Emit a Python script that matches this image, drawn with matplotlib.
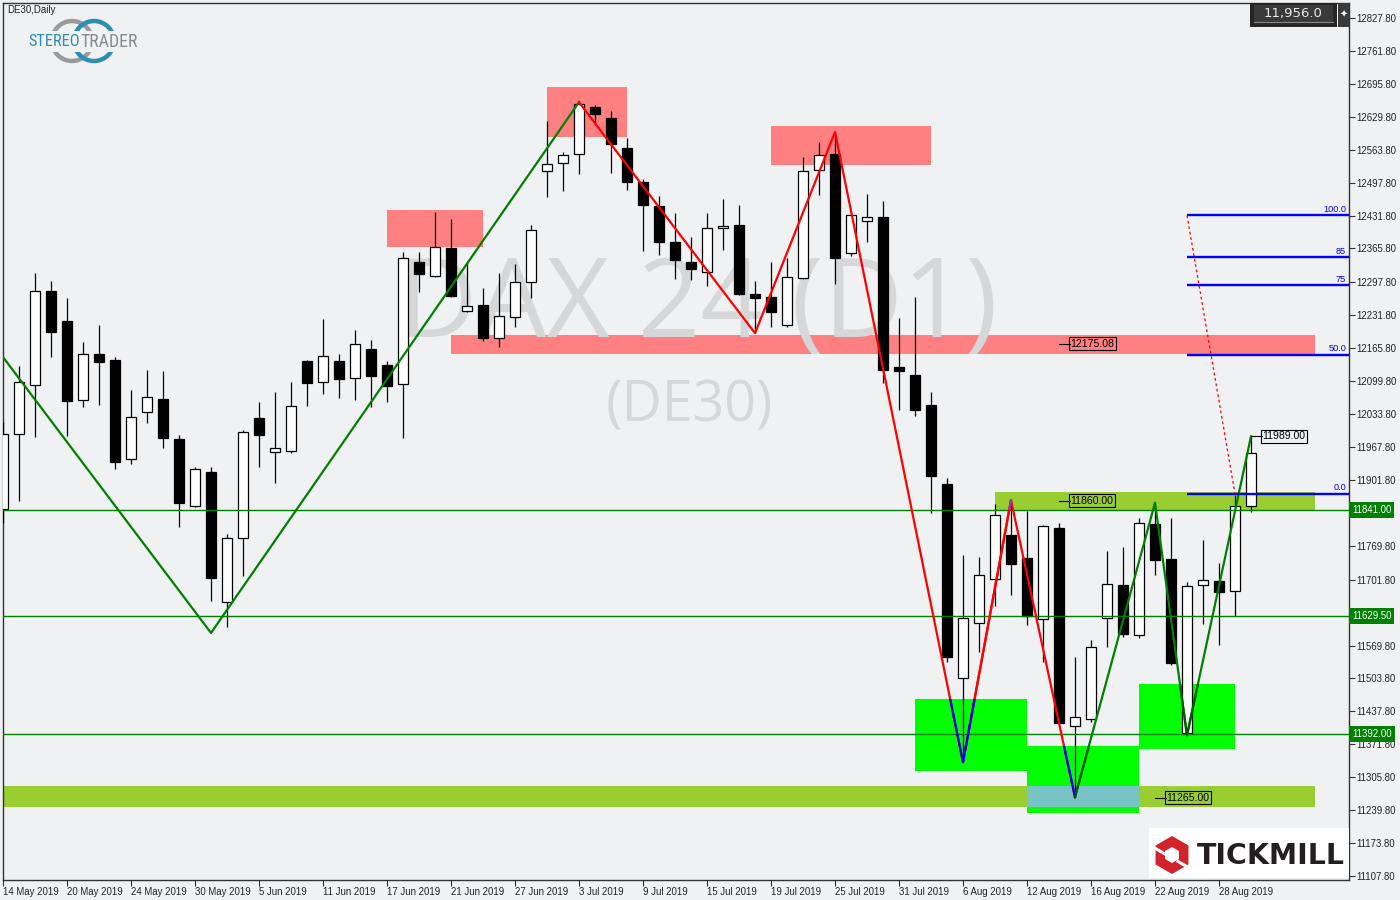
import numpy as np
import pandas as pd
import matplotlib
matplotlib.use("Agg")
import matplotlib.pyplot as plt
from matplotlib.patches import Rectangle, RegularPolygon, Circle
from matplotlib.transforms import blended_transform_factory

plt.rcParams["font.family"] = ["Liberation Sans", "DejaVu Sans"]

# ---- DE30 daily candles, 14 May - 30 Aug 2019 ----
dates = pd.bdate_range("2019-05-14", "2019-08-30")

opens = [11843, 11994, 12092, 12281, 12220, 12062, 12154, 12142, 11944, 12038,
         12064, 11984, 11850, 11918, 11657, 11785, 12026, 11958, 11960, 12140,
         12098, 12140, 12106, 12164, 12132, 12094, 12339, 12311, 12367, 12240,
         12252, 12186, 12228, 12299, 12521, 12537, 12555, 12649, 12627, 12567,
         12499, 12451, 12379, 12339, 12319, 12407, 12413, 12275, 12269, 12212,
         12307, 12523, 12555, 12357, 12421, 12429, 12128, 12112, 12052, 11894,
         11505, 11615, 11703, 11791, 11745, 11623, 11805, 11409, 11423, 11625,
         11691, 11591, 11813, 11743, 11394, 11691, 11699, 11679, 11850]
highs = [12018, 12130, 12317, 12301, 12267, 12178, 12212, 12148, 12082, 12122,
         12120, 11992, 11928, 11928, 11793, 12002, 12058, 12078, 12098, 12142,
         12224, 12154, 12202, 12182, 12140, 12359, 12359, 12439, 12425, 12339,
         12287, 12317, 12335, 12413, 12621, 12559, 12659, 12653, 12641, 12587,
         12505, 12471, 12437, 12389, 12437, 12465, 12453, 12301, 12339, 12347,
         12549, 12579, 12599, 12435, 12475, 12461, 12226, 12269, 12078, 11906,
         11751, 11747, 11854, 11862, 11839, 11812, 11815, 11547, 11581, 11759,
         11767, 11825, 11856, 11825, 11697, 11781, 11735, 11872, 11989]
lows = [11815, 11860, 11988, 12148, 11990, 12048, 12052, 11924, 11934, 12016,
        11966, 11807, 11847, 11659, 11607, 11709, 11928, 11896, 11956, 12050,
        12074, 12066, 12062, 12048, 12058, 11986, 12279, 12309, 12269, 12238,
        12180, 12168, 12208, 12267, 12469, 12481, 12515, 12613, 12517, 12483,
        12361, 12353, 12305, 12303, 12291, 12363, 12272, 12196, 12208, 12208,
        12305, 12473, 12295, 12351, 12379, 12096, 12042, 12030, 11835, 11537,
        11336, 11557, 11649, 11671, 11611, 11537, 11412, 11266, 11417, 11567,
        11587, 11585, 11711, 11531, 11392, 11613, 11571, 11629, 11837]
closes = [11994, 12098, 12281, 12198, 12060, 12154, 12138, 11938, 12028, 12068,
          11986, 11856, 11924, 11705, 11785, 11998, 11992, 11966, 12050, 12096,
          12150, 12104, 12174, 12110, 12090, 12347, 12315, 12369, 12271, 12250,
          12186, 12230, 12299, 12403, 12535, 12553, 12655, 12635, 12575, 12499,
          12453, 12379, 12343, 12325, 12407, 12411, 12275, 12267, 12238, 12309,
          12521, 12553, 12347, 12433, 12429, 12122, 12120, 12042, 11910, 11547,
          11625, 11711, 11831, 11733, 11629, 11809, 11415, 11427, 11567, 11693,
          11593, 11815, 11741, 11535, 11689, 11701, 11677, 11850, 11956]
last_price = 11956.0

# zones: (first bar, last bar, low, high)
resistance_zones = [(24, 30, 12369, 12443), (34, 39, 12589, 12690),
                    (48, 58, 12533, 12611), (28, 82, 12154, 12192)]
olive_zones = [(62, 82, 11841, 11878), (-1, 82, 11246, 11288)]
support_zones = [(57, 64, 11318, 11463), (64, 71, 11234, 11368),
                 (71, 77, 11362, 11493)]

levels = [11841.00, 11629.50, 11392.00]

zigzag_up1 = [(0, 12148), (13, 11595), (36, 12659)]
zigzag_down = [(36, 12659), (47, 12196), (52, 12599), (60, 11336),
               (63, 11861), (67, 11266)]
zigzag_up2 = [(67, 11266), (72, 11856), (74, 11390), (78, 11989)]

fib_start, fib_end = 74, 77
fib_high, fib_low = 12432.0, 11874.0
fib_levels = [100.0, 85, 75, 50.0, 0.0]
fib_labels = ["100.0", "85", "75", "50.0", "0.0"]

tag_bars = [66, 66, 72, 78]
tag_prices = [12175.08, 11860.00, 11265.00, 11989.00]

price_ticks = [12827.8, 12761.8, 12695.8, 12629.8, 12563.8, 12497.8, 12431.8,
               12365.8, 12297.8, 12231.8, 12165.8, 12099.8, 12033.8, 11967.8,
               11901.8, 11835.8, 11769.8, 11701.8, 11635.8, 11569.8, 11503.8,
               11437.8, 11371.8, 11305.8, 11239.8, 11173.8, 11107.8]
# these two sit behind the green level tags
hidden_ticks = [11835.8, 11635.8]

# ---- layout ----
BG = "#F0F1F3"
XMAX = 84.125
YMIN, YMAX = 11099.75, 12857.87

fig = plt.figure(figsize=(14, 9), dpi=100, facecolor=BG)
ax = fig.add_axes([3 / 1400, 20 / 900, 1346 / 1400, 877 / 900], facecolor=BG)
ax.set_xlim(0, XMAX)
ax.set_ylim(YMIN, YMAX)
for s in ax.spines.values():
    s.set_color("#333333")
    s.set_linewidth(1.0)

renderer = fig.canvas.get_renderer()


def fit(txt, width_px):
    bb = txt.get_window_extent(renderer)
    txt.set_fontsize(txt.get_fontsize() * width_px / bb.width)


# zones
for x0, x1, lo, hi in resistance_zones:
    ax.add_patch(Rectangle((x0, lo), x1 - x0, hi - lo, fc="#FF8080", ec="none", zorder=1))
for x0, x1, lo, hi in olive_zones:
    ax.add_patch(Rectangle((x0, lo), x1 - x0, hi - lo, fc="#9ACD32", ec="none", zorder=1))
for x0, x1, lo, hi in support_zones:
    ax.add_patch(Rectangle((x0, lo), x1 - x0, hi - lo, fc="#00FF00", ec="none", zorder=1))
# overlap of support and olive zones shows as teal
for sx0, sx1, slo, shi in support_zones:
    for ox0, ox1, olo, ohi in olive_zones:
        x0, x1 = max(sx0, ox0), min(sx1, ox1)
        lo, hi = max(slo, olo), min(shi, ohi)
        if x1 > x0 and hi > lo:
            ax.add_patch(Rectangle((x0, lo), x1 - x0, hi - lo, fc="#78C3C3", ec="none", zorder=1.2))

# watermark
wm = ax.text(43.44, 12188, "DAX 24 (D1)", fontsize=80, family=["Open Sans", "DejaVu Sans"],
             color="#D5D7D9", ha="center", va="baseline", zorder=1.5)
fit(wm, 600)
wm2 = ax.text(42.9, 12018, "(DE30)", fontsize=42, family=["Open Sans", "DejaVu Sans"],
              color="#D5D7D9", ha="center", va="baseline", zorder=1.5)
fit(wm2, 168)

# candles
x = np.arange(len(dates))
o, h, l, c = map(np.array, (opens, highs, lows, closes))
ax.vlines(x, l, h, color="black", lw=0.9, zorder=4)
for xi, oi, ci in zip(x, o, c):
    lo, hi = min(oi, ci), max(oi, ci)
    ax.add_patch(Rectangle((xi - 0.32, lo), 0.64, max(hi - lo, 1.5),
                           fc="white" if ci >= oi else "black", ec="black", lw=0.9, zorder=4.1))

# horizontal levels
for v in levels:
    ax.axhline(v, color="#008000", lw=1.0, zorder=5)


# zigzags
def zig(pts, color, zones=None, zone_color=None):
    xs, ys = zip(*pts)
    ax.plot(xs, ys, color=color, lw=1.6, zorder=6)
    if zones:
        for x0, x1, lo, hi in zones:
            ln, = ax.plot(xs, ys, color=zone_color, lw=1.6, zorder=6.1)
            ln.set_clip_path(Rectangle((x0, lo), x1 - x0, hi - lo, transform=ax.transData))


zig(zigzag_up1, "#008000")
zig(zigzag_down, "#FF0000", support_zones, "#0000FF")
zig(zigzag_down[3:5], "#FF0000", olive_zones[:1], "#8A3CC8")
zig(zigzag_up2, "#008000", support_zones, "#005A00")

# fibonacci
fib_prices = [fib_low + (fib_high - fib_low) * lv / 100 for lv in fib_levels]
ax.hlines(fib_prices, fib_start, XMAX, color="#0000FF", lw=1.7, zorder=6)
for p, lab in zip(fib_prices, fib_labels):
    ax.text(83.95, p + 3, lab, color="#0000FF", fontsize=6.6, ha="right", va="bottom", zorder=7)
ax.plot([fib_start, fib_end], [fib_high, fib_low], color="#FF0000", lw=0.9,
        ls=(0, (2.2, 2.2)), zorder=6)

# price tags
for b, p in zip(tag_bars, tag_prices):
    ax.plot([b, b + 0.66], [p, p], color="black", lw=0.8, zorder=7)
    ax.text(b + 0.72, p, f"{p:.2f}", fontsize=7.6, ha="left", va="center", color="black",
            bbox=dict(boxstyle="square,pad=0.12", fc="none", ec="black", lw=0.8), zorder=7)

# axes ticks
ax.yaxis.tick_right()
ax.set_yticks(price_ticks)
ax.set_yticklabels(["" if v in hidden_ticks else f"{v:.2f}" for v in price_ticks])
ax.tick_params(axis="y", direction="out", length=4, width=0.8, color="#333333",
               labelcolor="#222222", labelsize=6.9, pad=1.5)
xt = list(range(0, len(dates), 4))
ax.set_xticks(xt)
ax.set_xticklabels([f"{dates[i].day} {dates[i]:%b %Y}" for i in xt])
ax.tick_params(axis="x", direction="out", length=4, width=0.8, color="#333333",
               labelcolor="#222222", labelsize=6.9, pad=0.8)
for lbl in ax.get_xticklabels():
    lbl.set_ha("left")

trans = blended_transform_factory(fig.transFigure, ax.transData)
for v in levels:
    ax.text(1352 / 1400, v, f"{v:.2f}", transform=trans, fontsize=6.9, color="white",
            ha="left", va="center", zorder=8,
            bbox=dict(boxstyle="square,pad=0.3", fc="#008000", ec="none"))

# ---- decorations in pixel space ----
deco = fig.add_axes([0, 0, 1, 1], facecolor="none")
deco.set_xlim(0, 1400)
deco.set_ylim(900, 0)
deco.axis("off")
deco.set_zorder(10)

deco.text(7, 10, "DE30,Daily", fontsize=7, color="#222222", va="center", ha="left")

# stereotrader logo
deco.add_patch(Circle((72, 41), 20, fill=False, ec="#9A9A9A", lw=3.2))
deco.add_patch(Circle((94, 41), 20, fill=False, ec="#2E8DB5", lw=3.2))
deco.add_patch(Rectangle((26, 31), 116, 21, fc=BG, ec="none"))
logo_font = ["Liberation Sans Narrow", "Roboto Condensed", "Liberation Sans"]
t1 = deco.text(28, 42, "STEREO", fontsize=14, color="#2E8DB5", ha="left", va="center",
               family=logo_font)
fit(t1, 52)
t2 = deco.text(80, 42, "TRADER", fontsize=14, color="#8A8A8A", ha="left", va="center",
               family=logo_font)
fit(t2, 58)

# last price box
deco.add_patch(Rectangle((1250, 3), 87, 24, fc="#262626", ec="none"))
deco.add_patch(Rectangle((1254, 5), 79, 18, fc="#3A3A3A", ec="none"))
deco.plot([1254, 1333], [22, 22], color="#8A8A8A", lw=0.8)
deco.text(1293, 14, f"{last_price:,.1f}", fontsize=9.5, color="#E8E8E8", ha="center",
          va="center", family=["DejaVu Sans"])
deco.add_patch(Rectangle((1338, 3), 11, 24, fc="#3A3A3A", ec="none"))
deco.text(1343.5, 15, "\u2726", fontsize=7, color="white", ha="center", va="center",
          family=["DejaVu Sans"])

# tickmill logo
deco.add_patch(Rectangle((1149, 828), 200, 50, fc="white", ec="none"))
deco.add_patch(RegularPolygon((1172, 855), 6, radius=19, orientation=0, fc="#D1232A", ec="none"))
deco.add_patch(RegularPolygon((1172, 855), 6, radius=8, orientation=0, fc="white", ec="none"))
for ang in (-30, 150):
    d = np.array([np.cos(np.radians(ang)), -np.sin(np.radians(ang))])
    p0, p1 = np.array([1172, 855]) + 7 * d, np.array([1172, 855]) + 20 * d
    deco.plot([p0[0], p1[0]], [p0[1] + 3, p1[1] + 3], color="white", lw=2.2)
tm = deco.text(1197, 856, "TICKMILL", fontsize=20, color="#231F20", fontweight="bold",
               ha="left", va="center", family=["DejaVu Sans"])
fit(tm, 147)

fig.savefig("out.png", dpi=100, facecolor=BG)
